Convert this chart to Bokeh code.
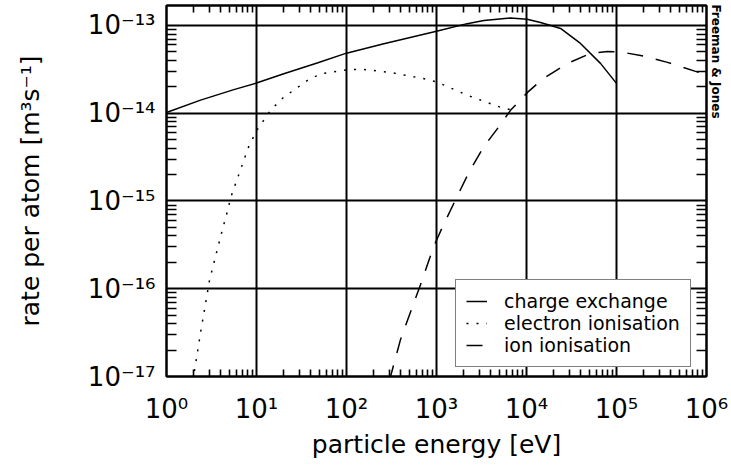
import math
from bokeh.plotting import figure
from bokeh.models import (LogAxis, FixedTicker, Legend, LegendItem,
                          CustomJSTickFormatter, Range1d)
from bokeh.embed import file_html
from bokeh.resources import INLINE

# ---------------- data ----------------
cx_energy = [1, 2.39, 5.6, 10, 20.1, 47.2, 100, 260, 1000, 2190, 3360, 6610,
             10160, 14300, 18600, 23900, 39800, 66400, 100000]
cx_rate = [1.02e-14, 1.41e-14, 1.86e-14, 2.21e-14, 2.82e-14, 3.73e-14, 4.84e-14,
           6.19e-14, 8.61e-14, 1.05e-13, 1.14e-13, 1.22e-13, 1.18e-13, 1.08e-13,
           1.0e-13, 9.25e-14, 6.24e-14, 3.70e-14, 2.19e-14]

el_energy = [1.96, 2.10, 2.39, 3.01, 3.98, 4.89, 5.14, 8.15, 10, 14.3, 20, 39.8,
             55.5, 111, 155, 308, 794, 1030, 2210, 5140, 7940]
el_rate = [8.9e-18, 1.37e-17, 3.16e-17, 1.26e-16, 3.89e-16, 8.55e-16, 1.08e-15,
           4.11e-15, 6.3e-15, 1.08e-14, 1.52e-14, 2.50e-14, 2.85e-14, 3.16e-14,
           3.16e-14, 2.92e-14, 2.43e-14, 2.25e-14, 1.60e-14, 1.17e-14, 1.05e-14]

ion_energy = [299, 398, 541, 664, 927, 1167, 1626, 2270, 3327, 4887, 6637, 10260,
              15450, 28580, 51400, 79400, 119700, 184900, 369000, 755000, 1000000]
ion_rate = [8.9e-18, 2.63e-17, 6.24e-17, 1.11e-16, 3.0e-16, 5.07e-16, 1.03e-15,
            2.08e-15, 4.11e-15, 6.93e-15, 1.08e-14, 1.73e-14, 2.50e-14, 3.70e-14,
            4.81e-14, 5.07e-14, 4.93e-14, 4.56e-14, 3.80e-14, 3.00e-14, 2.77e-14]

series_labels = ["charge exchange", "electron ionisation", "ion ionisation"]

x_tick_exponents = [0, 1, 2, 3, 4, 5, 6]
y_tick_exponents = [-17, -16, -15, -14, -13]

x_title = "particle energy [eV]"
y_title = "rate per atom [m³s⁻¹]"
credit = "Freeman & Jones"

X_MIN, X_MAX = 1.0, 1.0e6
Y_MIN, Y_MAX = 1.0e-17, 1.69e-13

# ---------------- figure ----------------
FONT = "DejaVu Sans"
p = figure(width=731, height=466, x_axis_type="log", y_axis_type="log",
           x_range=Range1d(X_MIN, X_MAX), y_range=Range1d(Y_MIN, Y_MAX),
           output_backend="svg", toolbar_location=None,
           min_border_left=166, min_border_right=25,
           min_border_top=5, min_border_bottom=90)
p.background_fill_color = "white"
p.border_fill_color = "white"
p.outline_line_color = "black"
p.outline_line_width = 2

x_ticks = [10.0 ** k for k in x_tick_exponents]
y_ticks = [10.0 ** k for k in y_tick_exponents]
x_minor = [m * 10.0 ** k for k in x_tick_exponents[:-1] for m in range(2, 10)]
y_minor = [m * 10.0 ** k for k in y_tick_exponents[:-1] for m in range(2, 10)]
y_minor += [m * 10.0 ** y_tick_exponents[-1] for m in range(2, 10)
            if m * 10.0 ** y_tick_exponents[-1] < Y_MAX]

blank = CustomJSTickFormatter(code="return ''")
power = CustomJSTickFormatter(code="""
    const sup = {'0':'⁰','1':'¹','2':'²','3':'³','4':'⁴','5':'⁵','6':'⁶',
                 '7':'⁷','8':'⁸','9':'⁹','-':'⁻'};
    const e = String(Math.round(Math.log10(tick)));
    let s = '';
    for (const c of e) s += sup[c];
    return '10' + s;
""")


def style_axis(ax, ticks, minor, tick_len, labelled):
    ax.ticker = FixedTicker(ticks=ticks, minor_ticks=minor)
    ax.major_tick_in = 0
    ax.major_tick_out = 0
    ax.minor_tick_in = tick_len
    ax.minor_tick_out = 0
    ax.minor_tick_line_width = 1.6
    ax.minor_tick_line_color = "black"
    ax.axis_line_width = 2
    ax.axis_line_color = "black"
    if labelled:
        ax.formatter = power
        ax.major_label_text_font = FONT
        ax.major_label_text_font_size = "26px"
        ax.major_label_text_color = "black"
        ax.axis_label_text_font = FONT
        ax.axis_label_text_font_size = "25px"
        ax.axis_label_text_font_style = "normal"
        ax.axis_label_text_color = "black"
    else:
        ax.formatter = blank
        ax.major_label_text_font_size = "0px"
        ax.major_label_standoff = 0


style_axis(p.xaxis[0], x_ticks, x_minor, 7, True)
style_axis(p.yaxis[0], y_ticks, y_minor, 10, True)
p.xaxis[0].axis_label = x_title
p.yaxis[0].axis_label = y_title
p.xaxis[0].major_label_standoff = 17
p.xaxis[0].axis_label_standoff = 3
p.yaxis[0].major_label_standoff = 11
p.yaxis[0].axis_label_standoff = 40

top_ax = LogAxis()
right_ax = LogAxis()
style_axis(top_ax, x_ticks, x_minor, 7, False)
style_axis(right_ax, y_ticks, y_minor, 10, False)
# credit line written along the right edge, read top to bottom, near the top
right_ax.axis_label = credit + "\u00a0" * 62
right_ax.axis_label_standoff = 2
right_ax.axis_label_text_font = FONT
right_ax.axis_label_text_font_size = "12px"
right_ax.axis_label_text_font_style = "bold"
right_ax.axis_label_text_color = "black"
p.add_layout(top_ax, "above")
p.add_layout(right_ax, "right")

p.xgrid.ticker = FixedTicker(ticks=x_ticks)
p.ygrid.ticker = FixedTicker(ticks=y_ticks)
for g in (p.xgrid[0], p.ygrid[0]):
    g.grid_line_color = "black"
    g.grid_line_width = 2
    g.grid_line_alpha = 1.0

# ---------------- curves ----------------
r1 = p.line(cx_energy, cx_rate, line_color="black", line_width=1.5)
r2 = p.line(el_energy, el_rate, line_color="black", line_width=1.5, line_dash="2 8")
r3 = p.line(ion_energy, ion_rate, line_color="black", line_width=1.5, line_dash="16 13")

legend = Legend(items=[LegendItem(label=series_labels[0], renderers=[r1]),
                       LegendItem(label=series_labels[1], renderers=[r2]),
                       LegendItem(label=series_labels[2], renderers=[r3])],
                location=(289, 9), margin=0, padding=10, spacing=0,
                glyph_width=21, glyph_height=20, label_height=20,
                label_standoff=17, label_text_font=FONT,
                label_text_font_size="19px", label_text_color="black",
                border_line_color="black", border_line_width=1.5,
                background_fill_color="white", background_fill_alpha=1.0)
p.add_layout(legend)

open("out.html", "w").write(file_html(p, INLINE))
